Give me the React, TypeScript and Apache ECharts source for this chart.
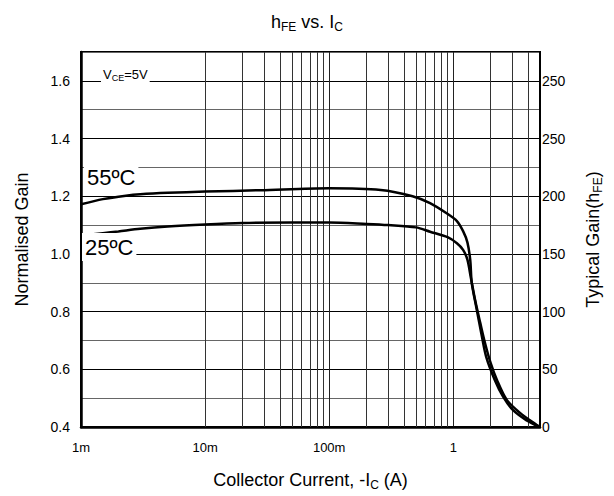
import React, { useEffect, useRef } from 'react';
import * as echarts from 'echarts';

// Collector current (A) and normalised gain, 25 ºC
const current25 = [0.001, 0.0015, 0.002, 0.003, 0.005, 0.01, 0.02, 0.05, 0.1, 0.2, 0.3, 0.5, 0.65, 0.9, 1.07, 1.2, 1.3, 1.38, 1.5, 1.65, 1.8, 2.0, 2.25, 2.7, 3.45, 4.7, 5];
const gain25 = [1.063, 1.072, 1.078, 1.087, 1.095, 1.102, 1.107, 1.109, 1.109, 1.104, 1.1, 1.092, 1.077, 1.058, 1.037, 1.014, 0.98, 0.922, 0.84, 0.761, 0.692, 0.622, 0.563, 0.494, 0.449, 0.407, 0.4];

// 55 ºC
const current55 = [0.001, 0.0015, 0.0023, 0.003, 0.005, 0.01, 0.028, 0.1, 0.26, 0.47, 0.65, 0.89, 1.07, 1.2, 1.3, 1.37, 1.41, 1.53, 1.68, 1.84, 2.16, 2.52, 3.02, 3.87, 5];
const gain55 = [1.172, 1.19, 1.202, 1.207, 1.212, 1.216, 1.221, 1.228, 1.222, 1.2, 1.176, 1.14, 1.114, 1.079, 1.04, 0.979, 0.899, 0.817, 0.726, 0.644, 0.563, 0.505, 0.459, 0.424, 0.4];

// Tick labels
const xDecades = [0.001, 0.01, 0.1, 1];
const xTickLabels = ['1m', '10m', '100m', '1'];
const leftTickValues = [0.4, 0.6, 0.8, 1.0, 1.2, 1.4, 1.6];
const leftTickLabels = ['0.4', '0.6', '0.8', '1.0', '1.2', '1.4', '1.6'];
const rightTickLabels = ['0', '50', '100', '150', '200', '250', '250'];

// Minor vertical grid lines (log decades subdivisions)
const xMinorLines = [
  0.002, 0.003, 0.004, 0.005, 0.006, 0.007, 0.008, 0.009,
  0.02, 0.03, 0.04, 0.05, 0.06, 0.07, 0.08, 0.09,
  0.2, 0.3, 0.4, 0.5, 0.6, 0.7, 0.8, 0.9,
  2, 3, 4,
];

const FONT = '"Liberation Sans", Arial, Helvetica, sans-serif';

function tickIndex(v: number): number {
  for (let i = 0; i < leftTickValues.length; i++) {
    if (Math.abs(v - leftTickValues[i]) < 1e-6) return i;
  }
  return -1;
}

function xLabel(v: number): string {
  for (let i = 0; i < xDecades.length; i++) {
    if (Math.abs(Math.log10(v) - Math.log10(xDecades[i])) < 1e-6) return xTickLabels[i];
  }
  return '';
}

export default function App() {
  const ref = useRef<HTMLDivElement>(null);

  useEffect(() => {
    if (!ref.current) return;
    const chart = echarts.init(ref.current, undefined, { renderer: 'svg' });

    const subRich = {
      a: { fontSize: 18, fontFamily: FONT, fontWeight: 'normal', color: '#000', lineHeight: 22 },
      s: { fontSize: 12, fontFamily: FONT, fontWeight: 'normal', color: '#000', verticalAlign: 'bottom', lineHeight: 17 },
    };
    const nameRich = {
      a: { fontSize: 18, fontFamily: FONT, color: '#000', lineHeight: 22 },
      s: { fontSize: 12, fontFamily: FONT, color: '#000', verticalAlign: 'bottom', lineHeight: 17 },
    };

    const option: any = {
      animation: false,
      backgroundColor: '#fff',
      title: {
        text: '{a|h}{s|FE}{a| vs. I}{s|C}',
        left: 'center',
        top: 6,
        textStyle: { rich: subRich, fontFamily: FONT, fontWeight: 'normal', fontSize: 18, color: '#000' },
      },
      grid: {
        left: 81,
        right: 74,
        top: 52,
        bottom: 69,
        show: true,
        borderColor: '#000',
        borderWidth: 2,
        backgroundColor: 'transparent',
      },
      xAxis: {
        type: 'log',
        logBase: 10,
        min: 0.001,
        max: 5,
        name: '{a|Collector Current, -I}{s|C}{a| (A)}',
        nameLocation: 'middle',
        nameGap: 42,
        nameTextStyle: { rich: nameRich },
        axisLine: { show: true, lineStyle: { color: '#000', width: 2.5 } },
        axisTick: { show: false },
        axisLabel: {
          color: '#000',
          fontSize: 13,
          fontFamily: FONT,
          margin: 14,
          formatter: (v: number) => xLabel(v),
        },
        splitLine: { show: true, lineStyle: { color: '#222', width: 1 } },
        minorTick: { show: false },
        minorSplitLine: { show: false },
      },
      yAxis: [
        {
          type: 'value',
          min: 0.4,
          max: 1.7,
          interval: 0.1,
          position: 'left',
          name: 'Normalised Gain',
          nameLocation: 'middle',
          nameRotate: 90,
          nameGap: 50,
          nameTextStyle: { fontSize: 18, fontFamily: FONT, color: '#000' },
          axisLine: { show: true, lineStyle: { color: '#000', width: 2.5 } },
          axisTick: { show: false },
          axisLabel: {
            color: '#000',
            fontSize: 14,
            fontFamily: FONT,
            margin: 11,
            formatter: (v: number) => {
              const i = tickIndex(v);
              return i >= 0 ? leftTickLabels[i] : '';
            },
          },
          splitLine: { show: true, lineStyle: { color: ['#000', '#666'], width: 1 } },
        },
        {
          type: 'value',
          min: 0.4,
          max: 1.7,
          interval: 0.1,
          position: 'right',
          name: '{a|Typical Gain(h}{s|FE}{a|)}',
          nameLocation: 'middle',
          nameRotate: 90,
          nameGap: 42,
          nameTextStyle: { rich: nameRich },
          axisLine: { show: true, lineStyle: { color: '#000', width: 2 } },
          axisTick: { show: false },
          axisLabel: {
            color: '#000',
            fontSize: 14,
            fontFamily: FONT,
            margin: 2,
            formatter: (v: number) => {
              const i = tickIndex(v);
              return i >= 0 ? rightTickLabels[i] : '';
            },
          },
          splitLine: { show: false },
        },
      ],
      series: [
        {
          name: '25ºC',
          type: 'line',
          data: current25.map((c, i) => [c, gain25[i]]),
          showSymbol: false,
          smooth: 0.3,
          z: 5,
          lineStyle: { color: '#000', width: 2.5 },
          markLine: {
            silent: true,
            symbol: 'none',
            z: 1,
            label: { show: false },
            lineStyle: { color: '#333', width: 1, type: 'solid' },
            data: xMinorLines.map((v) => ({ xAxis: v })),
          },
        },
        {
          name: '55ºC',
          type: 'line',
          data: current55.map((c, i) => [c, gain55[i]]),
          showSymbol: false,
          smooth: 0.3,
          z: 5,
          lineStyle: { color: '#000', width: 2.5 },
        },
      ],
      graphic: [
        {
          type: 'text',
          left: 101,
          top: 65,
          z: 10,
          style: {
            text: '{v|V}{s|CE}{v|=5V}',
            backgroundColor: '#fff',
            padding: [1, 2, 1, 2],
            rich: {
              v: { fontSize: 13, fontFamily: FONT, fill: '#000', lineHeight: 16 },
              s: { fontSize: 9, fontFamily: FONT, fill: '#000', verticalAlign: 'bottom', lineHeight: 13 },
            },
          },
        },
        {
          type: 'text',
          left: 84,
          top: 163,
          z: 10,
          style: {
            text: '55ºC',
            fontSize: 22,
            fontFamily: FONT,
            fill: '#000',
            backgroundColor: '#fff',
            padding: [3, 3, 3, 3],
          },
        },
        {
          type: 'text',
          left: 82,
          top: 233,
          z: 10,
          style: {
            text: '25ºC',
            fontSize: 22,
            fontFamily: FONT,
            fill: '#000',
            backgroundColor: '#fff',
            padding: [3, 3, 3, 3],
          },
        },
      ],
    };

    chart.setOption(option);
    return () => chart.dispose();
  }, []);

  return (
    <div
      ref={ref}
      style={{ position: 'absolute', left: 0, top: 0, width: 614, height: 496, background: '#fff' }}
    />
  );
}
